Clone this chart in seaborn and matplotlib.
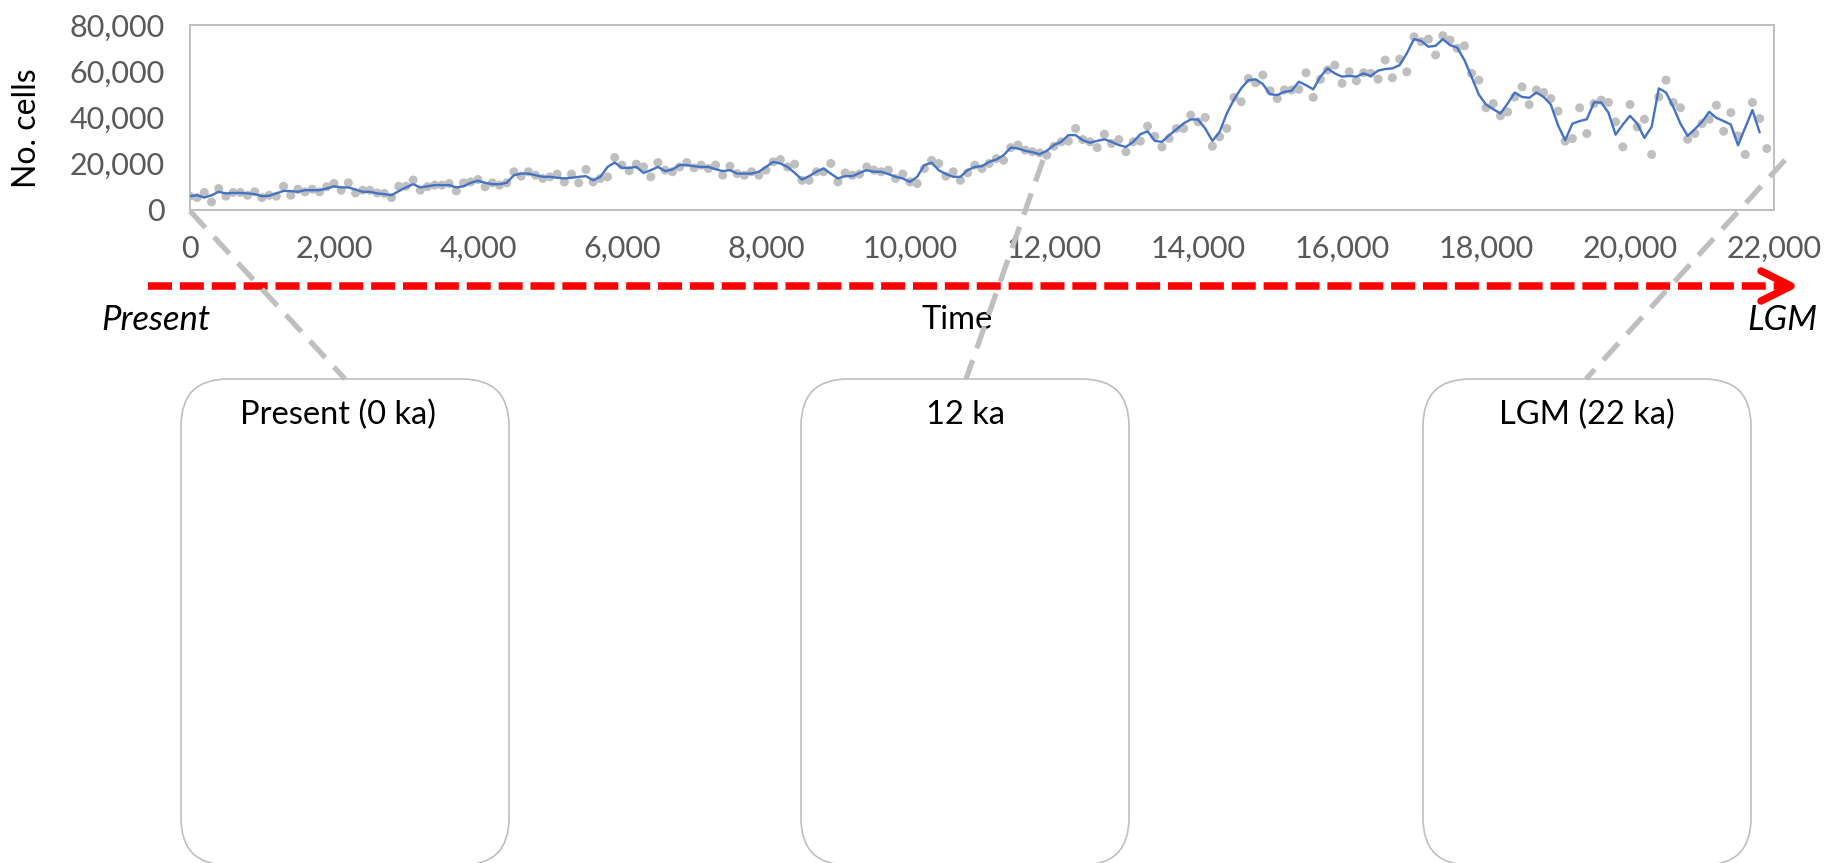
import numpy as np
import matplotlib
matplotlib.use("Agg")
import matplotlib.pyplot as plt
from matplotlib.patches import FancyBboxPatch
import seaborn as sns

# Simulated number of occupied cells through time (years before present)
years = np.arange(0, 22000, 100)
cells = [
    5800, 5200, 7400, 3300, 9100, 5800, 7400, 7400, 6200, 7700,
    5200, 6200, 5800, 10100, 6200, 8800, 7700, 8800, 7700, 9900,
    11300, 8400, 11600, 7200, 8400, 8400, 7200, 7000, 5200, 10100,
    10100, 12800, 8400, 9900, 10600, 10600, 11300, 8100, 11600, 12000,
    13000, 9900, 11600, 10600, 11600, 16400, 14500, 16400, 14900, 13500,
    14200, 15400, 12000, 15400, 11600, 17400,
    12000, 13500, 14200, 22600, 19300, 16800, 19700, 18500, 14200, 20400,
    17100, 16400, 18500, 20400, 18100, 19300, 17800, 19300, 14900, 18800,
    15600, 14900, 16400, 14900, 17100, 20700, 21700, 18500, 19700, 12700,
    12700, 16400, 16400, 20000, 12000, 15900, 14900, 15400, 18500, 17100,
    16400, 17100, 13500, 15400, 12000, 11300, 17800, 21400, 20000, 14500,
    16400, 12700, 15900, 19300, 17800,
    20000, 22100, 21400, 26900, 28000, 25800, 25100, 24600, 23600, 27500,
    29400, 29700, 35200, 30400, 29400, 26900, 32700, 28700, 30400, 25100,
    29400, 29700, 36200, 31800, 27200, 30900, 35200, 35200, 41000, 38100,
    40000, 27500, 31600, 35200, 48700, 46800, 56900, 55000, 58400, 51600,
    48200, 51900, 51900, 52200, 59400, 48700, 56500, 60600, 62700, 54800,
    59800, 55900, 59400, 59100, 56600,
    64900, 57200, 65300, 59800, 75000, 72900, 74000, 67100, 75500, 73600,
    70000, 71100, 59100, 56200, 44200, 46000, 40700, 42400, 48900, 53300,
    45600, 51900, 50800, 48200, 42700, 29700, 30800, 44200, 33000, 46000,
    47500, 46500, 38100, 27200, 45600, 35900, 39200, 23900, 48900, 56200,
    46500, 44200, 30500, 33000, 37300, 39200, 45300, 34000, 42100, 32000,
    23900, 46500, 39500, 26500,
]

# Moving-average trend of the cell counts
trend_years = np.arange(0, 21900, 100)
trend = [
    5800, 6200, 5200, 6200, 7700, 7000, 7200, 7200, 7000, 6700,
    5800, 6000, 7000, 8100, 8000, 7700, 8400, 8400, 8400, 9100,
    10100, 9600, 9600, 8700, 7700, 7700, 7000, 6700, 6200, 8000,
    9600, 11000, 9600, 10100, 10600, 10600, 10600, 9600, 10100, 11600,
    12500, 11600, 11000, 11000, 11600, 14900, 15600, 15600, 14900, 14200,
    14200, 13800, 13500, 13800, 14200, 14500,
    12700, 14200, 18500, 20400, 18100, 18100, 18500, 15900, 17100, 18500,
    16700, 17400, 19300, 19300, 18800, 18500, 18500, 17500, 16700, 17100,
    15600, 15600, 15600, 16400, 18500, 20700, 20000, 18500, 15900, 13000,
    14500, 16400, 17800, 15600, 13500, 14500, 14500, 15900, 17100, 16400,
    16400, 15400, 14200, 13500, 12000, 14200, 19300, 20300, 17100, 15400,
    14200, 14200, 17100, 18500, 18800,
    20700, 21700, 23600, 26900, 26500, 25500, 24900, 24000, 25500, 28000,
    29400, 32300, 32300, 30100, 29000, 29800, 30500, 29400, 28000, 27200,
    29400, 32700, 34000, 29800, 29400, 32300, 34800, 37400, 39100, 39100,
    35200, 29800, 33700, 41700, 47800, 52600, 56200, 56500, 54500, 50100,
    49700, 51100, 51600, 55500, 54000, 52200, 57700, 61300, 59100, 57700,
    58000, 57700, 59100, 58000, 60300,
    61000, 61300, 62700, 67800, 74000, 73200, 70700, 71100, 74000, 71400,
    70300, 64900, 57600, 49900, 45600, 43600, 41700, 46000, 50800, 48900,
    48500, 50800, 48900, 45600, 36600, 30100, 37300, 38400, 39200, 46500,
    46500, 42100, 32500, 36900, 40700, 37300, 31100, 35900, 52600, 50800,
    44600, 37300, 32000, 34900, 38100, 42400, 39800, 38400, 36900, 27900,
    35500, 43200, 33500,
]

x_ticks = list(range(0, 22001, 2000))
y_ticks = list(range(0, 80001, 20000))

box_titles = ["Present (0 ka)", "12 ka", "LGM (22 ka)"]

sns.set_style("white")
plt.rcParams["font.family"] = ["Lato", "DejaVu Sans"]

GRID = "#BFBFBF"
TICK_TXT = "#595959"

fig = plt.figure(figsize=(18.42, 8.63), dpi=100)
ax = fig.add_axes([0.1031, 0.7572, 0.86, 0.2135])

sns.scatterplot(x=years, y=cells, color="#BFBFBF", s=42, edgecolor="none",
                ax=ax, zorder=2)
sns.lineplot(x=trend_years, y=trend, color="#4472C4", linewidth=1.7,
             ax=ax, zorder=3)

ax.set_xlim(0, 22000)
ax.set_ylim(0, 80000)
ax.set_xticks(x_ticks)
ax.set_yticks(y_ticks)
ax.set_xticklabels([f"{v:,}" for v in x_ticks])
ax.set_yticklabels([f"{v:,}" for v in y_ticks])
ax.tick_params(axis="both", direction="out", length=7, width=1.2,
               color=GRID, labelcolor=TICK_TXT, labelsize=22)
ax.tick_params(axis="x", pad=11)
ax.tick_params(axis="y", pad=11)
ax.set_xlabel("")
ax.set_ylabel("")
for sp in ax.spines.values():
    sp.set_visible(True)
    sp.set_color(GRID)
    sp.set_linewidth(1.4)

# Overlay in pixel units for the timeline arrow, boxes and connectors
ov = fig.add_axes([0, 0, 1, 1], zorder=5)
ov.set_xlim(0, 1842)
ov.set_ylim(863, 0)
ov.axis("off")
ov.patch.set_alpha(0)

# Time arrow
ov.plot([148, 1784], [286, 286], color="#FF0000", linewidth=5.4,
        linestyle=(0, (3.2, 1.05)), solid_capstyle="butt")
ov.plot([1761, 1791, 1761], [271, 286, 301], color="#FF0000", linewidth=5.4,
        solid_capstyle="round", solid_joinstyle="round")

ov.text(156, 320, "Present", ha="center", va="center", fontsize=25,
        style="italic", color="black")
ov.text(957, 320, "Time", ha="center", va="center", fontsize=23.5,
        color="black")
ov.text(1782, 320, "LGM", ha="center", va="center", fontsize=25,
        style="italic", color="black")
ov.text(27, 128, "No. cells", ha="center", va="center", fontsize=23,
        rotation=90, color="black")

# Snapshot panels
box_left = [181, 801, 1423]
title_x = [338, 965, 1587]
for left, tx, title in zip(box_left, title_x, box_titles):
    ov.add_patch(FancyBboxPatch((left, 379), 328, 486,
                                boxstyle="round,pad=0,rounding_size=47",
                                facecolor="white", edgecolor=GRID,
                                linewidth=1.2))
    ov.text(tx, 415, title, ha="center", va="center", fontsize=23.5,
            color="black")

# Connectors from the time series to the panels
connectors = [((190, 211), (345, 379)),
              ((1043, 160), (966, 379)),
              ((1785, 160), (1586, 379))]
for (x0, y0), (x1, y1) in connectors:
    ov.plot([x0, x1], [y0, y1], color=GRID, linewidth=3.8,
            linestyle=(0, (4.3, 2.4)), solid_capstyle="butt", zorder=6)

fig.savefig("out.png", dpi=100)
